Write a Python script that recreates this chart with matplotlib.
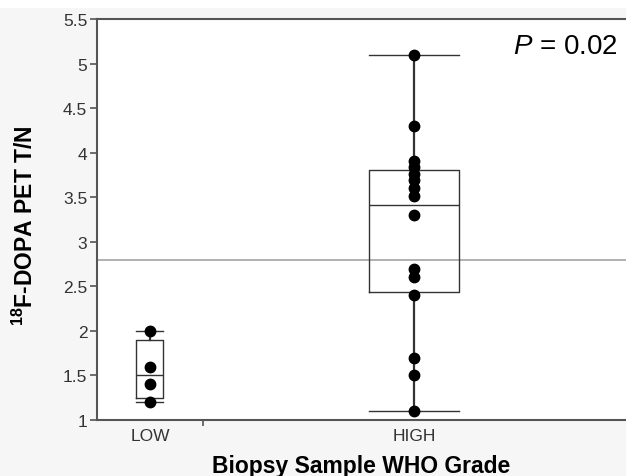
import numpy as np
import matplotlib
matplotlib.use("Agg")
import matplotlib.pyplot as plt
from matplotlib.patches import Rectangle

plt.rcParams['font.family'] = ['Liberation Sans', 'DejaVu Sans']
plt.rcParams['mathtext.fontset'] = 'custom'
plt.rcParams['mathtext.rm'] = 'Liberation Sans'
plt.rcParams['mathtext.it'] = 'Liberation Sans:italic'
plt.rcParams['mathtext.bf'] = 'Liberation Sans:bold'

# ---------------- data ----------------
groups = ["LOW", "HIGH"]
group_n = [4, 16]

low_values = [2.0, 1.6, 1.4, 1.2]
high_values = [5.1, 4.3, 3.91, 3.84, 3.76, 3.69, 3.60, 3.51,
               3.3, 2.7, 2.6, 2.4, 1.7, 1.5, 1.1]

# box summaries as drawn (whisker low, Q1, median, Q3, whisker high)
low_box = [1.2, 1.25, 1.5, 1.9, 2.0]
high_box = [1.1, 2.44, 3.41, 3.81, 5.1]

ref_line = 2.8
p_text = "0.02"

y_ticks = [1, 1.5, 2, 2.5, 3, 3.5, 4, 4.5, 5, 5.5]

# ---------------- layout ----------------
W, H = 626, 477
fig = plt.figure(figsize=(W / 100, H / 100), dpi=100)
fig.patch.set_facecolor("#f6f6f6")
fig.patches.append(Rectangle((0, 1 - 9 / H), 1, 9 / H, transform=fig.transFigure,
                             facecolor="white", edgecolor="none", zorder=-1))

ax = fig.add_axes([97 / W, (H - 421) / H, 1 - 97 / W, (421 - 20) / H])
ax.set_facecolor("white")

# category positions proportional to group size (JMP style)
edges = np.concatenate([[0], np.cumsum(group_n)])
centers = (edges[:-1] + edges[1:]) / 2
box_widths = [1.02, 3.4]

line_col = "#333333"
stats = []
for name, b in zip(groups, [low_box, high_box]):
    stats.append(dict(label=name, whislo=b[0], q1=b[1], med=b[2], q3=b[3], whishi=b[4]))

ax.bxp(stats, positions=centers, widths=box_widths, showfliers=False,
       capwidths=box_widths, patch_artist=False,
       boxprops=dict(color=line_col, linewidth=1.0),
       medianprops=dict(color=line_col, linewidth=1.0),
       whiskerprops=dict(color=line_col, linewidth=1.6),
       capprops=dict(color=line_col, linewidth=1.0))

for c, vals in zip(centers, [low_values, high_values]):
    ax.plot(np.full(len(vals), c), vals, 'o', color="black", markersize=7.5, zorder=5)

ax.axhline(ref_line, color="#aaaaaa", linewidth=1.3, zorder=1)

# axes styling
ax.set_xlim(edges[0], edges[-1])
ax.set_ylim(1, 5.5)
ax.set_yticks(y_ticks)
ax.set_yticklabels([f"{v:g}" for v in y_ticks], fontsize=12.5, color="#333333")
ax.set_xticks(centers)
ax.set_xticklabels(groups, fontsize=12.5, color="#333333")
ax.tick_params(axis='x', length=0, pad=6)
ax.set_xticks(edges[1:-1], minor=True)
ax.tick_params(axis='x', which='minor', length=4, width=1.2, color="#555555")
ax.tick_params(axis='y', length=5, width=1.2, color="#555555", pad=2)

ax.spines["right"].set_visible(False)
for s in ["left", "bottom", "top"]:
    ax.spines[s].set_color("#555555")
    ax.spines[s].set_linewidth(1.5)

ax.set_xlabel("Biopsy Sample WHO Grade", fontsize=16.5, fontweight="bold", labelpad=7.5)
ax.set_ylabel(r"$^{\mathbf{18}}$F-DOPA PET T/N", fontsize=16.5, fontweight="bold")
ax.yaxis.set_label_coords(-0.111, 0.4875)

ax.text(0.985, 0.932, r"$P$ = " + p_text, transform=ax.transAxes, ha="right", va="center",
        fontsize=20, color="black")

fig.savefig("out.png", dpi=100, facecolor=fig.get_facecolor())
